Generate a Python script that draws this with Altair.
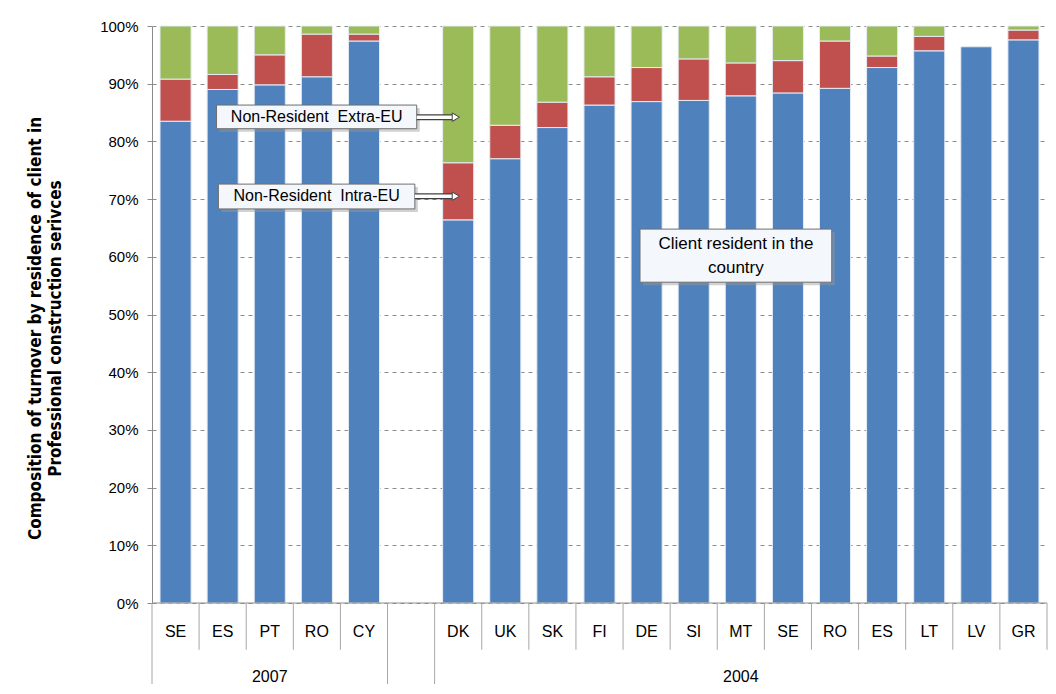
import altair as alt
import pandas as pd

# ---- data ----
categories = ["SE", "ES", "PT", "RO", "CY",
              "DK", "UK", "SK", "FI", "DE", "SI", "MT", "SE", "RO", "ES", "LT", "LV", "GR"]
years = ["2007"] * 5 + ["2004"] * 13
resident = [83.5, 89.0, 89.8, 91.2, 97.4,
            66.4, 77.0, 82.4, 86.3, 86.9, 87.1, 87.9, 88.4, 89.2, 92.8, 95.7, 96.4, 97.6]
intra_eu = [7.3, 2.6, 5.2, 7.4, 1.2,
            9.9, 5.8, 4.4, 4.9, 5.9, 7.2, 5.7, 5.6, 8.2, 2.0, 2.5, 0.0, 1.7]
extra_eu = [9.2, 8.4, 5.0, 1.4, 1.4,
            23.7, 17.2, 13.2, 8.8, 7.2, 5.7, 6.4, 6.0, 2.6, 5.2, 1.8, 0.0, 0.7]
series_names = ["Client resident in the country", "Non-Resident Intra-EU", "Non-Resident Extra-EU"]
series_colors = ["#4F81BD", "#C0504D", "#9BBB59"]
y_ticks = [0, 10, 20, 30, 40, 50, 60, 70, 80, 90, 100]
y_title = ["Composition of turnover by residence of client in",
           "Professional construction serivces"]

# annotations (text, box in slot / % units)
ann_labels = ["Non-Resident\u00a0 Extra-EU", "Non-Resident\u00a0 Intra-EU"]
ann_box_x0 = [1.37, 1.41]
ann_box_x1 = [5.62, 5.58]
ann_box_y0 = [82.2, 68.3]
ann_box_y1 = [86.3, 72.6]
ann_text_y = [84.2, 70.5]
ann_arrow_to = [6.45, 6.45]
client_lines = ["Client resident in the", "country"]
client_box = [10.36, 14.43, 55.6, 64.8]
client_text_y = [62.3, 58.1]

# ---- build tables ----
rows, cat_rows = [], []
slot = 0
prev = years[0]
group_bounds = {}
for i, (c, yr) in enumerate(zip(categories, years)):
    if yr != prev:
        slot += 1
        prev = yr
    group_bounds.setdefault(yr, [slot, slot])
    group_bounds[yr][1] = slot + 1
    base = 0.0
    for name, vals in zip(series_names, [resident, intra_eu, extra_eu]):
        v = vals[i]
        if v > 0:
            rows.append(dict(cat=c, year=yr, series=name, y0=base, y1=base + v,
                             x0=slot + 0.17, x1=slot + 0.83))
        base += v
    cat_rows.append(dict(cat=c, xc=slot + 0.5, xl=slot, xr=slot + 1))
    slot += 1
n_slots = slot
bars_df = pd.DataFrame(rows)
cat_df = pd.DataFrame(cat_rows)

xs = alt.Scale(domain=[0, n_slots], nice=False, zero=False)
ys = alt.Scale(domain=[0, 100], nice=False)

AX = "#8C8C8C"
FONT = "Liberation Sans"
TITLE_FONT = "'DejaVu Sans Condensed', 'Liberation Sans Narrow', 'Liberation Sans', sans-serif"

bars = alt.Chart(bars_df).mark_rect(stroke="#E6ECF5", strokeWidth=1).encode(
    x=alt.X("x0:Q", scale=xs, axis=None),
    x2="x1:Q",
    y=alt.Y("y0:Q", scale=ys, axis=alt.Axis(
        values=y_ticks, labelExpr="datum.value + '%'", title=y_title,
        titleFont=TITLE_FONT, titleFontSize=17, titleFontWeight="bold",
        titleColor="#000000", titleAngle=-90, titleAlign="center", titleBaseline="top",
        titleX=-125, titleY=302, titleLineHeight=20,
        grid=True, gridDash=[4, 4], gridColor="#8C8C8C", gridWidth=1,
        domainColor=AX, tickColor=AX, tickSize=5, labelFont=FONT, labelFontSize=15,
        labelColor="#000000", labelPadding=9)),
    y2="y1:Q",
    color=alt.Color("series:N", scale=alt.Scale(domain=series_names, range=series_colors),
                    legend=None),
)

# bottom axis line
base_df = pd.DataFrame({"x0": [0], "x1": [n_slots], "y": [0]})
base_line = alt.Chart(base_df).mark_rule(color=AX, strokeWidth=1).encode(
    x=alt.X("x0:Q", scale=xs), x2="x1:Q", y=alt.Y("y:Q", scale=ys))

# category dividers (short) and group dividers (long)
div_x = sorted(set(list(cat_df["xl"]) + list(cat_df["xr"])))
long_x = [group_bounds[g][0] for g in group_bounds] + [group_bounds["2007"][1]]
div_df = pd.DataFrame({"x": div_x, "y0": [0] * len(div_x),
                       "y1": [-15.2 if x in long_x else -8.1 for x in div_x]})
dividers = alt.Chart(div_df).mark_rule(color="#A6A6A6", strokeWidth=1).encode(
    x=alt.X("x:Q", scale=xs), y=alt.Y("y0:Q", scale=ys), y2="y1:Q")

cat_labels = alt.Chart(cat_df).mark_text(font=FONT, fontSize=16, color="#000000",
                                         baseline="middle").encode(
    x=alt.X("xc:Q", scale=xs), y=alt.value(577 + 29), text="cat:N")

grp_df = pd.DataFrame({"year": list(group_bounds.keys()),
                       "xc": [(v[0] + v[1]) / 2 for v in group_bounds.values()]})
grp_labels = alt.Chart(grp_df).mark_text(font=FONT, fontSize=16, color="#000000",
                                         baseline="middle").encode(
    x=alt.X("xc:Q", scale=xs), y=alt.value(577 + 74), text="year:N")

# annotation boxes
box_df = pd.DataFrame({
    "x0": ann_box_x0 + [client_box[0]], "x1": ann_box_x1 + [client_box[1]],
    "y0": ann_box_y0 + [client_box[2]], "y1": ann_box_y1 + [client_box[3]]})
shadow = alt.Chart(box_df).mark_rect(fill="#9A9A9A", opacity=0.45, xOffset=3, yOffset=3,
                                     x2Offset=3, y2Offset=3).encode(
    x=alt.X("x0:Q", scale=xs), x2="x1:Q", y=alt.Y("y0:Q", scale=ys), y2="y1:Q")
boxes = alt.Chart(box_df).mark_rect(fill="#F4F7FB", stroke="#6E6E6E", strokeWidth=1).encode(
    x=alt.X("x0:Q", scale=xs), x2="x1:Q", y=alt.Y("y0:Q", scale=ys), y2="y1:Q")

arrow_df = pd.DataFrame({"x0": ann_box_x1, "x1": ann_arrow_to, "y": ann_text_y})
arrow_outer = alt.Chart(arrow_df).mark_rule(color="#404040", strokeWidth=6).encode(
    x=alt.X("x0:Q", scale=xs), x2="x1:Q", y=alt.Y("y:Q", scale=ys))
arrow_inner = alt.Chart(arrow_df).mark_rule(color="#FFFFFF", strokeWidth=3.5).encode(
    x=alt.X("x0:Q", scale=xs), x2="x1:Q", y=alt.Y("y:Q", scale=ys))
arrow_head = alt.Chart(arrow_df).mark_point(shape="triangle-right", size=70, filled=True,
                                            fill="#FFFFFF", stroke="#404040",
                                            strokeWidth=1, opacity=1).encode(
    x=alt.X("x1:Q", scale=xs), y=alt.Y("y:Q", scale=ys))

ann_df = pd.DataFrame({"t": ann_labels, "x": [(a + b) / 2 for a, b in zip(ann_box_x0, ann_box_x1)],
                       "y": ann_text_y})
ann_text = alt.Chart(ann_df).mark_text(font=FONT, fontSize=16, color="#000000",
                                       baseline="middle").encode(
    x=alt.X("x:Q", scale=xs), y=alt.Y("y:Q", scale=ys), text="t:N")

client_df = pd.DataFrame({"t": client_lines, "x": [(client_box[0] + client_box[1]) / 2] * 2,
                          "y": client_text_y})
client_text = alt.Chart(client_df).mark_text(font=FONT, fontSize=17, color="#000000",
                                             baseline="middle").encode(
    x=alt.X("x:Q", scale=xs), y=alt.Y("y:Q", scale=ys), text="t:N")

chart = alt.layer(
    bars, base_line, dividers, cat_labels, grp_labels,
    shadow, boxes, arrow_outer, arrow_inner, arrow_head, ann_text, client_text
).properties(
    width=895, height=577,
    autosize=alt.AutoSizeParams(type="none"),
    padding={"left": 144, "top": 18, "right": 1, "bottom": 81},
    background="#FFFFFF",
).configure_view(stroke=None)

chart.save("out.html", embed_options={"renderer": "svg", "actions": False})
